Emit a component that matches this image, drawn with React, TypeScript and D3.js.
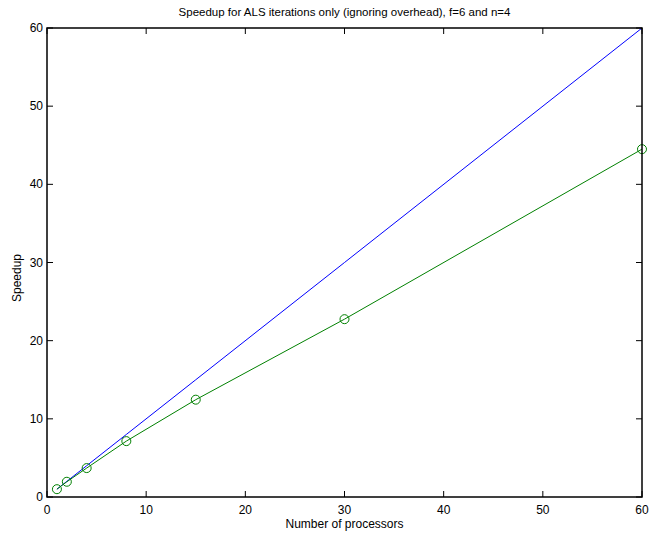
import React from "react";
import * as d3 from "d3";

const processors = [1, 2, 4, 8, 15, 30, 60];
const idealSpeedup = [1, 2, 4, 8, 15, 30, 60];
const actualSpeedup = [1.0, 1.95, 3.7, 7.15, 12.45, 22.75, 44.5];
const xTicks = [0, 10, 20, 30, 40, 50, 60];
const yTicks = [0, 10, 20, 30, 40, 50, 60];

const W = 650, H = 533;
const L = 47, R = 642, T = 28, B = 497;

export default function App() {
  const x = d3.scaleLinear().domain([0, 60]).range([L, R]);
  const y = d3.scaleLinear().domain([0, 60]).range([B, T]);
  const line = d3.line<number>().x((_, i) => x(processors[i])).y((d) => y(d));
  const font = "'Liberation Sans', Arial, Helvetica, sans-serif";
  const tl = 6;
  return (
    <svg width={W} height={H} style={{ position: "absolute", left: 0, top: 0, background: "#fff" }} fontFamily={font}>
      <rect x={0} y={0} width={W} height={H} fill="#fff" />
      <path d={line(idealSpeedup) || ""} fill="none" stroke="#0000ff" strokeWidth={1} />
      <path d={line(actualSpeedup) || ""} fill="none" stroke="#008000" strokeWidth={1} />
      {actualSpeedup.map((v, i) => (
        <circle key={i} cx={x(processors[i])} cy={y(v)} r={4.5} fill="none" stroke="#008000" strokeWidth={1} />
      ))}
      <rect x={L} y={T} width={R - L} height={B - T} fill="none" stroke="#000" strokeWidth={1.5} />
      {xTicks.map((t) => (
        <g key={"x" + t}>
          <line x1={x(t)} x2={x(t)} y1={B} y2={B - tl} stroke="#000" />
          <line x1={x(t)} x2={x(t)} y1={T} y2={T + tl} stroke="#000" />
          <text x={x(t)} y={B + 17} fontSize={12} textAnchor="middle">{t}</text>
        </g>
      ))}
      {yTicks.map((t) => (
        <g key={"y" + t}>
          <line x1={L} x2={L + tl} y1={y(t)} y2={y(t)} stroke="#000" />
          <line x1={R} x2={R - tl} y1={y(t)} y2={y(t)} stroke="#000" />
          <text x={L - 4} y={y(t) + 4} fontSize={12} textAnchor="end">{t}</text>
        </g>
      ))}
      <text x={(L + R) / 2} y={528} fontSize={12} textAnchor="middle">Number of processors</text>
      <text transform={`translate(21,278) rotate(-90)`} fontSize={12} textAnchor="middle">Speedup</text>
      <text x={(L + R) / 2} y={16} fontSize={11.5} textAnchor="middle">Speedup for ALS iterations only (ignoring overhead), f=6 and n=4</text>
    </svg>
  );
}
